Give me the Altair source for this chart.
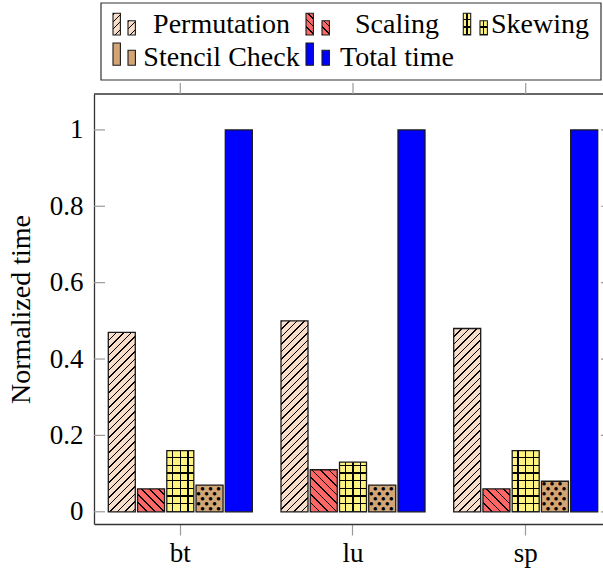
import altair as alt

# ---------------- data ----------------
GROUPS = ["bt", "lu", "sp"]
SERIES = ["Permutation", "Scaling", "Skewing", "Stencil Check", "Total time"]
PERMUTATION = [0.47, 0.50, 0.48]
SCALING = [0.06, 0.11, 0.06]
SKEWING = [0.16, 0.13, 0.16]
STENCIL = [0.07, 0.07, 0.08]
TOTAL = [1.0, 1.0, 1.0]
Y_TICKS = [0, 0.2, 0.4, 0.6, 0.8, 1.0]
Y_TITLE = "Normalized time"

# ---------------- style / layout ----------------
FONT = "Liberation Serif"
FS_TICK = 27
FS_TEXT = 28
PLOT_W, PLOT_H = 509, 430
Y_MIN, Y_MAX = -0.032, 1.094
PX_PER_UNIT = PLOT_H / (Y_MAX - Y_MIN)
BAR_W = 27.0
PERM_BG = "#F8DDC8"
SCAL_BG = "#FF6666"
SKEW_BG = "#FFF380"
STEN_BG = "#D4A574"
TOTAL_C = "#0000FF"
CLEAR = "rgba(0,0,0,0)"
EDGE = "#1a1a1a"
TICK_C = "#9a9a9a"
FRAME_C = "#333333"


def stripe_stops(bg, fg, length, period, thick, phase):
    s = [{"offset": 0.0, "color": bg}]
    c = phase
    while c - thick / 2 < length:
        a = min(max((c - thick / 2) / length, 0.0), 1.0)
        b = min(max((c + thick / 2) / length, 0.0), 1.0)
        if b > a:
            s += [{"offset": round(a, 5), "color": bg}, {"offset": round(a, 5), "color": fg},
                  {"offset": round(b, 5), "color": fg}, {"offset": round(b, 5), "color": bg}]
        c += period
    s.append({"offset": 1.0, "color": bg})
    return s


def hatch(bg, w, h, period, thick, direction):
    mu = (w + h) / (w * w + h * h)
    if direction == "ne":
        x1, y1, x2, y2 = 0, 0, mu * w, mu * h
    else:
        x1, y1, x2, y2 = 0, 1, mu * w, 1 - mu * h
    return {"gradient": "linear", "x1": x1, "y1": y1, "x2": round(x2, 6), "y2": round(y2, 6),
            "stops": stripe_stops(bg, "black", w + h, period, thick, 1.0)}


def hlines(bg, h):
    return {"gradient": "linear", "x1": 0, "y1": 1, "x2": 0, "y2": 0,
            "stops": stripe_stops(bg, "black", h, 7.7, 1.3, 0.3)}


def vlines(w, phase=5.7):
    return {"gradient": "linear", "x1": 0, "y1": 0, "x2": 1, "y2": 0,
            "stops": stripe_stops(CLEAR, "black", w, 7.7, 1.3, phase)}


X_SCALE = alt.Scale(domain=GROUPS, paddingInner=0.1048, paddingOuter=0.02605, align=1)
XO_SCALE = alt.Scale(domain=SERIES, paddingInner=0.0769, paddingOuter=0.1812, align=0.5)
Y_SCALE = alt.Scale(domain=[Y_MIN, Y_MAX], nice=False, zero=False)


def series_values(name, vals, extra=None):
    out = []
    for g, v in zip(GROUPS, vals):
        d = {"group": g, "series": name, "value": v}
        if extra:
            d.update(extra(v * PX_PER_UNIT))
        out.append(d)
    return out


def bars(values, fill_enc=None, fill_val=None, stroke=True, x_axis=None, y_axis=None):
    mk = dict(strokeWidth=1.3, stroke=EDGE) if stroke else dict(strokeWidth=0)
    if fill_val is not None:
        mk["fill"] = fill_val
    enc = dict(
        x=alt.X("group:N", scale=X_SCALE, axis=x_axis),
        xOffset=alt.XOffset("series:N", scale=XO_SCALE),
        y=alt.Y("value:Q", scale=Y_SCALE, axis=y_axis),
        y2=alt.datum(0),
    )
    if fill_enc is not None:
        enc["fill"] = alt.Fill(fill_enc, scale=None)
    return alt.Chart(alt.Data(values=values)).mark_bar(**mk).encode(**enc)


bottom_axis = alt.Axis(orient="bottom", title=None, labelAngle=0, tickSize=11, tickColor=TICK_C,
                       tickWidth=1.2, domainColor=FRAME_C, domainWidth=1.3, labelPadding=5,
                       grid=False, labelFont=FONT, labelFontSize=FS_TICK, labelColor="black")
left_axis = alt.Axis(orient="left", values=Y_TICKS, format="~g", ticks=False, tickSize=0,
                     labelPadding=11, domainColor=FRAME_C, domainWidth=1.3, grid=False,
                     title=Y_TITLE, titlePadding=14, labelFont=FONT, labelFontSize=FS_TICK,
                     labelColor="black", titleFont=FONT, titleFontSize=FS_TEXT,
                     titleFontWeight="normal", titleColor="black")

perm = bars(series_values("Permutation", PERMUTATION,
                          lambda h: {"grad": hatch(PERM_BG, BAR_W, h, 7.5, 1.6, "ne")}),
            fill_enc="grad:N")
scal = bars(series_values("Scaling", SCALING,
                          lambda h: {"grad": hatch(SCAL_BG, BAR_W, h, 8.5, 1.6, "nw")}),
            fill_enc="grad:N")
skew_base = bars(series_values("Skewing", SKEWING, lambda h: {"grad": hlines(SKEW_BG, h)}),
                 fill_enc="grad:N", stroke=False)
skew_top = bars(series_values("Skewing", SKEWING, lambda h: {"grad": vlines(BAR_W)}),
                fill_enc="grad:N")
sten = bars(series_values("Stencil Check", STENCIL), fill_val=STEN_BG)
total = bars(series_values("Total time", TOTAL), fill_val=TOTAL_C,
             x_axis=bottom_axis, y_axis=left_axis)

# dot pattern for the Stencil Check bars (text dots shifted by dx)
ROW_OFFS = [[-7, 1, 9], [-11, -3, 5]]
dot_rows = {}
for g, v in zip(GROUPS, STENCIL):
    h = v * PX_PER_UNIT
    k = 0
    while 2.5 + 5 * k < h - 2:
        for off in ROW_OFFS[k % 2]:
            dot_rows.setdefault(off, []).append(
                {"group": g, "series": "Stencil Check", "value": (2.5 + 5 * k) / PX_PER_UNIT})
        k += 1
dot_layers = []
for off, vals in sorted(dot_rows.items()):
    dot_layers.append(
        alt.Chart(alt.Data(values=vals)).mark_text(
            text="●", font="DejaVu Sans", fontSize=4.6, color="black", dx=off,
            align="center", baseline="middle")
        .encode(x=alt.X("group:N", scale=X_SCALE, axis=None),
                xOffset=alt.XOffset("series:N", scale=XO_SCALE),
                y=alt.Y("value:Q", scale=Y_SCALE, axis=None)))

# frame pieces: inward y ticks (left/right), top frame line and outward top ticks
tick_data = alt.Data(values=[{"v": t} for t in Y_TICKS])
yticks_l = alt.Chart(tick_data).mark_rule(color=TICK_C, strokeWidth=1.2).encode(
    y=alt.Y("v:Q", scale=Y_SCALE, axis=None), x=alt.value(0), x2=alt.value(11))
yticks_r = alt.Chart(tick_data).mark_rule(color=TICK_C, strokeWidth=1.2).encode(
    y=alt.Y("v:Q", scale=Y_SCALE, axis=None), x=alt.value(PLOT_W - 2), x2=alt.value(PLOT_W))
top_line = alt.Chart(alt.Data(values=[{"k": 0}])).mark_rule(color=FRAME_C, strokeWidth=1.3).encode(
    x=alt.value(0), x2=alt.value(PLOT_W), y=alt.value(0))
top_ticks = alt.Chart(alt.Data(values=[{"group": g} for g in GROUPS])).mark_rule(
    color=TICK_C, strokeWidth=1.2).encode(
    x=alt.X("group:N", scale=X_SCALE, axis=None), y=alt.value(-11), y2=alt.value(0))

# ---------------- legend (pgfplots style box) ----------------
OX, OY = 94, 94  # plot origin in the page
one = alt.Data(values=[{"k": 0}])


def rect(x0, x1, y0, y1, **mk):
    return alt.Chart(one).mark_rect(**mk).encode(
        x=alt.value(x0 - OX), x2=alt.value(x1 - OX), y=alt.value(y0 - OY), y2=alt.value(y1 - OY))


legend_layers = [rect(101, 601, 3, 80, fill="white", stroke=FRAME_C, strokeWidth=1.2)]
COL_A = [113.0, 306.0, 463.3]
COL_B = [128.0, 322.0, 480.0]
TEXT_X = [221.5, 397.0, 540.0]
ROW_TOP_A = [13.3, 43.0]
ROW_TOP_B = [20.7, 50.3]
ROW_BOT = [35.0, 65.3]
TEXT_Y = [33.3, 66.0]
ENTRY_POS = [(0, 0), (1, 0), (2, 0), (0, 1), (1, 1)]
IW = 7.4
for name, (c, r) in zip(SERIES, ENTRY_POS):
    for x0, top in ((COL_A[c], ROW_TOP_A[r]), (COL_B[c], ROW_TOP_B[r])):
        h = ROW_BOT[r] - top
        edge = dict(stroke=EDGE, strokeWidth=1.1)
        if name == "Permutation":
            legend_layers.append(rect(x0, x0 + IW, top, ROW_BOT[r], fill=hatch(PERM_BG, IW, h, 7.5, 1.4, "ne"), **edge))
        elif name == "Scaling":
            legend_layers.append(rect(x0, x0 + IW, top, ROW_BOT[r], fill=hatch(SCAL_BG, IW, h, 7.5, 1.4, "nw"), **edge))
        elif name == "Skewing":
            legend_layers.append(rect(x0, x0 + IW, top, ROW_BOT[r], fill=hlines(SKEW_BG, h), strokeWidth=0))
            legend_layers.append(rect(x0, x0 + IW, top, ROW_BOT[r], fill=vlines(IW, 3.7), **edge))
        elif name == "Stencil Check":
            legend_layers.append(rect(x0, x0 + IW, top, ROW_BOT[r], fill=STEN_BG, **edge))
        else:
            legend_layers.append(rect(x0, x0 + IW, top, ROW_BOT[r], fill=TOTAL_C, **edge))
    legend_layers.append(
        alt.Chart(alt.Data(values=[{"label": name}])).mark_text(
            font=FONT, fontSize=FS_TEXT, align="center", baseline="alphabetic", color="black")
        .encode(x=alt.value(TEXT_X[c] - OX), y=alt.value(TEXT_Y[r] - OY), text="label:N"))

chart = alt.layer(
    total, yticks_l, yticks_r, top_line, top_ticks, perm, scal, skew_base, skew_top, sten,
    *dot_layers, *legend_layers
).resolve_axis(
    x="independent", y="independent"
).properties(
    width=PLOT_W, height=PLOT_H,
    autosize=alt.AutoSizeParams(type="none"),
    padding={"left": OX, "top": OY, "right": 603 - OX - PLOT_W, "bottom": 568 - OY - PLOT_H},
    background="white",
).configure_view(stroke=None)

chart.save("out.html", embed_options={"renderer": "svg", "actions": False})
